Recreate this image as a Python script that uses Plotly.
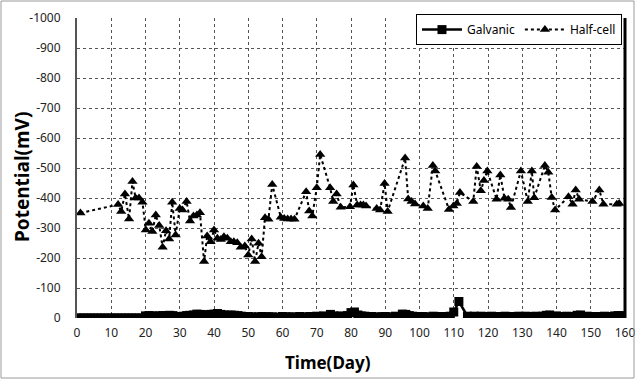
import plotly.graph_objects as go

# Half-cell potential (mV)
hc_days = [1, 12, 12.9, 14, 15.2, 16.2, 17.1, 18.1, 19.1, 20.1, 21, 22, 23, 24, 25, 26, 26.9, 27.8, 28.8,
           30, 30.8, 32, 33, 34, 35, 35.9, 37.1, 38, 39, 40, 41, 42, 42.9, 43.9, 44.9, 45.8, 46.8, 47.8,
           49, 50, 51, 52, 53, 53.9, 54.9, 55.9, 57, 59.5, 60.5, 61.5, 62.5, 63.5, 66.9, 67.8, 68.7, 70,
           71, 73.9, 74.8, 75.8, 77, 79.7, 80.7, 81.8, 82.8, 83.6, 84.4, 87.5, 88.5, 89.8, 90.7, 95.8,
           96.7, 97.7, 98.7, 101.1, 102.4, 103.9, 104.6, 108.6, 109.9, 110.9, 111.8, 115.7, 116.7, 117.9,
           118.8, 119.8, 122.5, 123.6, 124.8, 125.9, 126.7, 129.6, 131.6, 132.8, 133.5, 136.6, 137.6,
           138.6, 139.6, 143.5, 144.7, 145.6, 146.6, 150.5, 152.5, 153.7, 157.6, 158.3]
hc_vals = [-350, -378, -355, -413, -330, -455, -400, -400, -386, -293, -316, -288, -343, -308, -236, -291,
           -263, -386, -277, -365, -360, -388, -323, -340, -343, -351, -188, -273, -254, -293, -266, -262,
           -271, -266, -254, -254, -251, -236, -240, -210, -263, -188, -249, -204, -334, -329, -445, -336,
           -332, -330, -330, -329, -421, -357, -340, -434, -545, -434, -388, -413, -369, -371, -443, -377,
           -377, -377, -373, -365, -360, -448, -355, -533, -397, -388, -380, -373, -365, -508, -490, -362,
           -373, -382, -418, -388, -505, -424, -458, -490, -396, -477, -399, -396, -368, -490, -388, -490,
           -401, -508, -486, -402, -360, -404, -379, -427, -396, -388, -427, -379, -379, -382]

# Galvanic potential (mV)
g_days = [0, 1, 2, 3, 4, 5, 6, 7, 8, 9, 10, 11, 12, 13, 14, 15, 16, 17, 18, 19,
          20, 21, 22, 23, 24, 25, 26, 27, 28, 29, 30, 31, 32, 33, 34, 35, 36, 37, 38, 39,
          40, 41, 42, 43, 44, 45, 46, 47, 48, 49, 50, 51, 52, 53, 54, 55, 56, 57, 59,
          60, 61, 62, 63, 65, 67, 68, 69, 70, 71, 72, 74, 75, 76, 77, 79,
          80, 81, 82, 83, 84, 86, 88, 89, 90, 91, 93, 95, 96, 97, 98, 99,
          101, 102, 104, 105, 107, 109, 110, 111.5, 114, 116, 117, 118, 119,
          121, 123, 124, 125, 127, 129, 130, 131, 133, 134, 136, 137, 138,
          140, 141, 143, 144, 146, 147, 149, 151, 152, 154, 156, 157, 158, 159]
g_vals = [0, 0, 0, 0, 0, 0, 0, 0, 0, 0, 0, 0, 0, 0, 0, 0, 0, 0, 0, 0,
          -7, -8, -7, -6, -7, -8, -8, -9, -8, -5, -4, -6, -8, -9, -10, -13, -12, -10, -11, -12,
          -13, -15, -12, -10, -9, -10, -9, -8, -6, -5, -5, -4, -1, -4, -5, -4, -4, -4, -3,
          -5, -4, -3, -4, -5, -4, -5, -4, -6, -5, -7, -12, -7, -5, -7, -8,
          -18, -20, -10, -7, -6, -5, -4, -4, -5, -4, -6, -13, -12, -8, -6, -5,
          -5, -4, -6, -5, -5, -6, -20, -55, -6, -6, -5, -6, -5,
          -6, -5, -5, -6, -5, -6, -5, -6, -5, -6, -6, -9, -10,
          -7, -5, -6, -5, -9, -10, -6, -5, -5, -6, -5, -7, -8, -8]

x_ticks = list(range(0, 161, 10))
y_ticks = [0, -100, -200, -300, -400, -500, -600, -700, -800, -900, -1000]
y_tick_text = ["0", "-100", "-200", "-300", "-400", "-500", "-600", "-700", "-800", "-900", "-1000"]

FONT = "Noto Sans"

fig = go.Figure()
fig.add_trace(go.Scatter(
    x=g_days, y=g_vals, name="Galvanic", mode="lines+markers",
    line=dict(color="black", width=2.5),
    marker=dict(symbol="square", size=9, color="black"),
))
fig.add_trace(go.Scatter(
    x=hc_days, y=hc_vals, name="Half-cell", mode="lines+markers",
    line=dict(color="black", width=2, dash="dot"),
    marker=dict(symbol="triangle-up", size=9, color="black"),
))

fig.update_layout(
    width=635, height=379,
    margin=dict(l=77, r=10, t=18, b=61, autoexpand=False),
    paper_bgcolor="white", plot_bgcolor="white",
    font=dict(family=FONT, size=12, color="#222"),
    showlegend=True,
    legend=dict(
        orientation="h", x=0.9945, xanchor="right", y=1.013, yanchor="top",
        bgcolor="white", bordercolor="black", borderwidth=1,
        font=dict(family=FONT, size=12, color="black"),
        itemwidth=40, tracegroupgap=0,
    ),
    xaxis=dict(
        range=[0, 160], tickvals=x_ticks, ticks="", showgrid=True,
        gridcolor="#555", griddash="dot", gridwidth=1,
        showline=False, zeroline=False, automargin=False,
        ticklabelstandoff=6, ticklabeloverflow="allow",
    ),
    yaxis=dict(
        range=[0, -1000], tickvals=y_ticks, ticktext=y_tick_text,
        ticks="", showgrid=True, gridcolor="#555", griddash="dot", gridwidth=1,
        showline=True, linecolor="#555", linewidth=2, mirror=False, zeroline=False,
        automargin=False, ticklabelstandoff=12,
    ),
)

# axis titles
fig.add_annotation(text="<b>Time(Day)</b>", xref="paper", yref="paper",
                   x=(328 - 77) / 548, y=(318 - 362) / 300, xanchor="center", yanchor="middle",
                   showarrow=False, font=dict(family=FONT, size=17, color="black"))
fig.add_annotation(text="<b>Potential(mV)</b>", xref="paper", yref="paper", textangle=-90,
                   x=(22 - 77) / 548, y=(318 - 177) / 300, xanchor="center", yanchor="middle",
                   showarrow=False, font=dict(family=FONT, size=19, color="black"))

# thick right border of plot area
fig.add_shape(type="line", xref="x domain", yref="y domain", x0=1, x1=1, y0=0, y1=1,
              line=dict(color="black", width=3))
# outer chart frame
fig.add_shape(type="rect", xref="paper", yref="paper",
              x0=-76 / 548, x1=1 + 9 / 548, y0=-60 / 300, y1=1 + 17 / 300,
              line=dict(color="#9a9a9a", width=1))

fig.write_html("out.html", config={"displayModeBar": False},
               post_script="document.body.style.margin='0';")
